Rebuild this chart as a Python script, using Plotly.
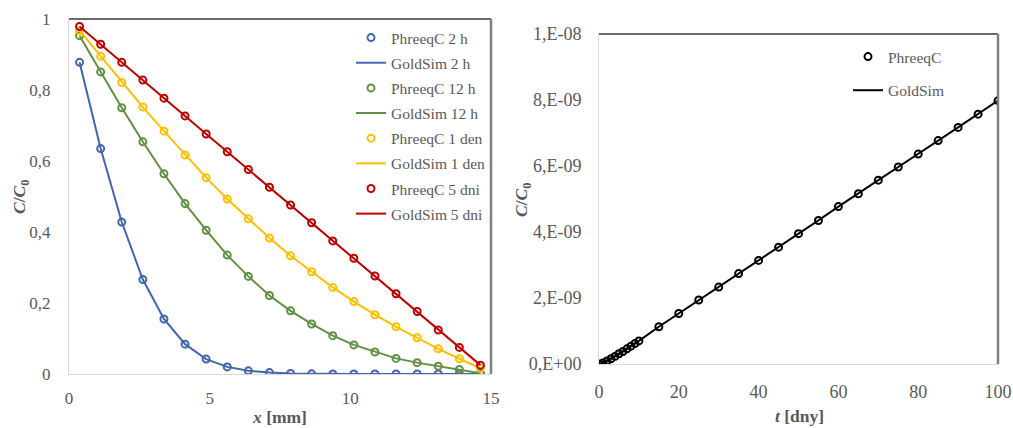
import plotly.graph_objects as go

# ---------------- data ----------------
x_mm = [0.375, 1.125, 1.875, 2.625, 3.375, 4.125, 4.875, 5.625, 6.375, 7.125,
        7.875, 8.625, 9.375, 10.125, 10.875, 11.625, 12.375, 13.125, 13.875, 14.625]

phreeqc_2h = [0.878, 0.635, 0.428, 0.266, 0.155, 0.084, 0.042, 0.020, 0.009, 0.004,
              0.0015, 0.0005, 0.0002, 0.0001, 0.0, 0.0, 0.0, 0.0, 0.0, 0.0]
goldsim_2h = [0.878, 0.635, 0.428, 0.266, 0.155, 0.084, 0.042, 0.020, 0.009, 0.004,
              0.0015, 0.0005, 0.0002, 0.0001, 0.0, 0.0, 0.0, 0.0, 0.0, 0.0]
phreeqc_12h = [0.953, 0.851, 0.750, 0.654, 0.564, 0.480, 0.405, 0.335, 0.275, 0.221,
               0.178, 0.141, 0.108, 0.082, 0.062, 0.044, 0.032, 0.022, 0.013, 0.002]
goldsim_12h = [0.953, 0.851, 0.750, 0.654, 0.564, 0.480, 0.405, 0.335, 0.275, 0.221,
               0.178, 0.141, 0.108, 0.082, 0.062, 0.044, 0.032, 0.022, 0.013, 0.002]
phreeqc_1d = [0.967, 0.895, 0.821, 0.752, 0.684, 0.617, 0.553, 0.493, 0.437, 0.383,
              0.333, 0.288, 0.244, 0.204, 0.167, 0.133, 0.102, 0.071, 0.043, 0.016]
goldsim_1d = [0.967, 0.895, 0.821, 0.752, 0.684, 0.617, 0.553, 0.493, 0.437, 0.383,
              0.333, 0.288, 0.244, 0.204, 0.167, 0.133, 0.102, 0.071, 0.043, 0.016]
phreeqc_5d = [0.979, 0.929, 0.878, 0.828, 0.777, 0.727, 0.676, 0.626, 0.576, 0.526,
              0.476, 0.426, 0.375, 0.326, 0.276, 0.226, 0.176, 0.124, 0.075, 0.025]
goldsim_5d = [0.979, 0.929, 0.878, 0.828, 0.777, 0.727, 0.676, 0.626, 0.576, 0.526,
              0.476, 0.426, 0.375, 0.326, 0.276, 0.226, 0.176, 0.124, 0.075, 0.025]

t_days = [0, 1, 2, 3, 4, 5, 6, 7, 8, 9, 10, 15, 20, 25, 30, 35, 40, 45, 50,
          55, 60, 65, 70, 75, 80, 85, 90, 95, 100]
phreeqc_t = [0.0, 0.03e-9, 0.09e-9, 0.16e-9, 0.23e-9, 0.31e-9, 0.38e-9, 0.46e-9, 0.54e-9,
             0.62e-9, 0.70e-9, 1.13e-9, 1.53e-9, 1.94e-9, 2.33e-9, 2.74e-9, 3.14e-9,
             3.54e-9, 3.95e-9, 4.35e-9, 4.77e-9, 5.16e-9, 5.57e-9, 5.97e-9, 6.36e-9,
             6.77e-9, 7.17e-9, 7.57e-9, 7.98e-9]
goldsim_t = [0.0, 0.03e-9, 0.09e-9, 0.16e-9, 0.23e-9, 0.31e-9, 0.38e-9, 0.46e-9, 0.54e-9,
             0.62e-9, 0.70e-9, 1.13e-9, 1.53e-9, 1.94e-9, 2.33e-9, 2.74e-9, 3.14e-9,
             3.54e-9, 3.95e-9, 4.35e-9, 4.77e-9, 5.16e-9, 5.57e-9, 5.97e-9, 6.36e-9,
             6.77e-9, 7.17e-9, 7.57e-9, 7.98e-9]

right_tickvals = [0, 2e-9, 4e-9, 6e-9, 8e-9, 1e-8]
right_ticktext = ["0,E+00", "2,E-09", "4,E-09", "6,E-09", "8,E-09", "1,E-08"]

# ---------------- style ----------------
FONT = "Liberation Serif, Times New Roman, serif"
GRAY = "#595959"
W, H = 1013, 428

series = [
    ("2 h", phreeqc_2h, goldsim_2h, "#4066AE"),
    ("12 h", phreeqc_12h, goldsim_12h, "#629043"),
    ("1 den", phreeqc_1d, goldsim_1d, "#FFC000"),
    ("5 dni", phreeqc_5d, goldsim_5d, "#C00000"),
]

fig = go.Figure()
for i, (lab, pq, gs, col) in enumerate(series):
    fig.add_trace(go.Scatter(
        x=x_mm, y=pq, mode="markers", name="PhreeqC " + lab,
        marker=dict(symbol="circle-open", size=7, color=col, line=dict(width=2, color=col)),
        xaxis="x", yaxis="y", legend="legend", legendgroup="a%d" % (2 * i),
    ))
    fig.add_trace(go.Scatter(
        x=x_mm, y=gs, mode="lines", name="GoldSim " + lab,
        line=dict(color=col, width=2),
        xaxis="x", yaxis="y", legend="legend", legendgroup="a%d" % (2 * i + 1),
    ))

fig.add_trace(go.Scatter(
    x=t_days, y=phreeqc_t, mode="markers", name="PhreeqC",
    marker=dict(symbol="circle-open", size=7, color="#000000", line=dict(width=2, color="#000000")),
    xaxis="x2", yaxis="y2", legend="legend2", legendgroup="b0",
))
fig.add_trace(go.Scatter(
    x=t_days, y=goldsim_t, mode="lines", name="GoldSim",
    line=dict(color="#000000", width=2),
    xaxis="x2", yaxis="y2", legend="legend2", legendgroup="b1",
))


def axis(size, **kw):
    d = dict(
        showgrid=False, zeroline=False, showline=True, linecolor="#D9D9D9", linewidth=1,
        ticks="", tickfont=dict(family=FONT, color=GRAY, size=size), automargin=False,
    )
    d.update(kw)
    return d


fig.update_layout(
    width=W, height=H,
    margin=dict(l=0, r=0, t=0, b=0),
    paper_bgcolor="white", plot_bgcolor="white",
    separators=", ",
    font=dict(family=FONT, color=GRAY),
    xaxis=axis(17, domain=[69 / W, 491 / W], range=[0, 15], dtick=5, anchor="y",
               ticklabelstandoff=9),
    yaxis=axis(17, domain=[(H - 374) / H, (H - 19) / H], range=[0, 1], dtick=0.2, anchor="x",
               ticklabelstandoff=14),
    xaxis2=axis(18, domain=[599 / W, 998 / W], range=[0, 100], dtick=20, anchor="y2",
                ticklabelstandoff=11),
    yaxis2=axis(18, domain=[(H - 364) / H, (H - 34) / H], range=[0, 1e-8], anchor="x2",
                tickvals=right_tickvals, ticktext=right_ticktext, ticklabelstandoff=13),
    legend=dict(x=351 / W, y=(H - 21) / H, xanchor="left", yanchor="top",
                bgcolor="rgba(0,0,0,0)", font=dict(family=FONT, size=15.5, color=GRAY),
                tracegroupgap=2, traceorder="grouped"),
    legend2=dict(x=848 / W, y=(H - 40) / H, xanchor="left", yanchor="top",
                 bgcolor="rgba(0,0,0,0)", font=dict(family=FONT, size=15.5, color=GRAY),
                 tracegroupgap=10.5, traceorder="grouped"),
)

# plot-area borders (top and right)
for xr, yr in (("x domain", "y domain"), ("x2 domain", "y2 domain")):
    fig.add_shape(type="line", xref=xr, yref=yr, x0=0, x1=1, y0=1, y1=1,
                  line=dict(color="#3A3A3A", width=1.5))
    fig.add_shape(type="line", xref=xr, yref=yr, x0=1, x1=1, y0=0, y1=1,
                  line=dict(color="#7F7F7F", width=2.5))

# axis titles
title_font = dict(family=FONT, size=17.5, color=GRAY)
ytitle = "<b><i>C</i>/<i>C</i><sub>0</sub></b>"
fig.add_annotation(text="<b><i>x</i> [mm]</b>", x=279 / W, y=(H - 417) / H, xref="paper", yref="paper",
                   showarrow=False, font=title_font, xanchor="center", yanchor="middle")
fig.add_annotation(text="<b><i>t</i> [dny]</b>", x=799 / W, y=(H - 416) / H, xref="paper", yref="paper",
                   showarrow=False, font=title_font, xanchor="center", yanchor="middle")
fig.add_annotation(text=ytitle, x=20 / W, y=(H - 197) / H, xref="paper", yref="paper",
                   showarrow=False, font=title_font, textangle=-90, xanchor="center", yanchor="middle")
fig.add_annotation(text=ytitle, x=522 / W, y=(H - 200) / H, xref="paper", yref="paper",
                   showarrow=False, font=title_font, textangle=-90, xanchor="center", yanchor="middle")

fig.write_html("out.html")
